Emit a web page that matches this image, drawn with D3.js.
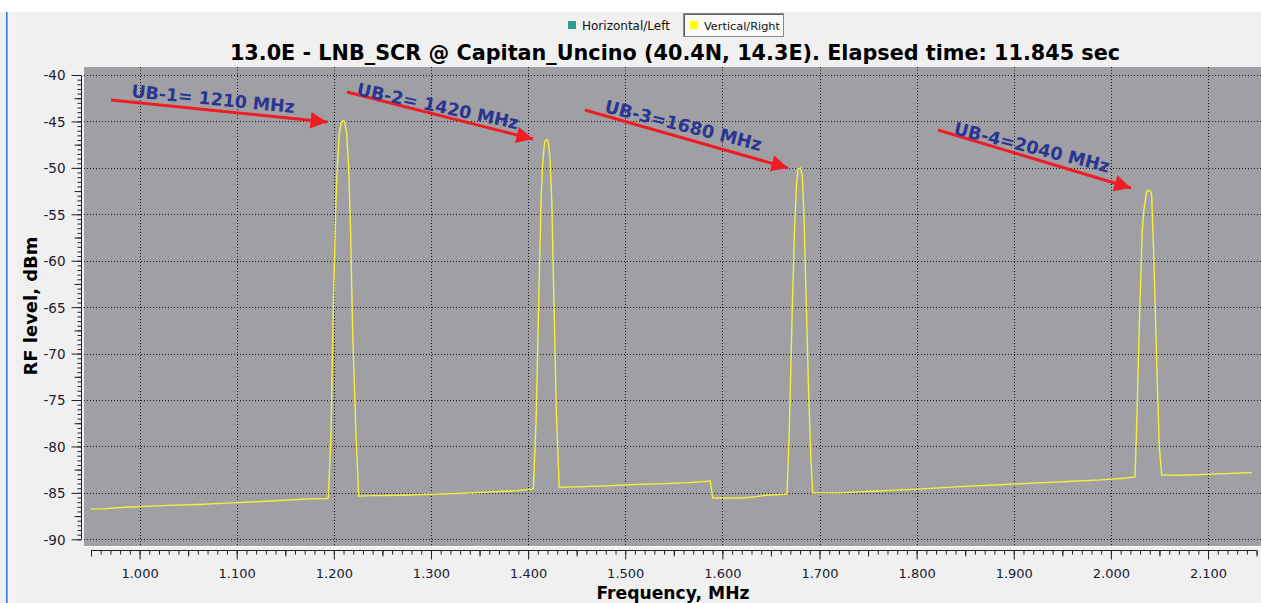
<!DOCTYPE html>
<html>
<head>
<meta charset="utf-8">
<script src="https://cdn.jsdelivr.net/npm/d3@7"></script>
<style>
html,body{margin:0;padding:0;background:#f0f0f0;overflow:hidden;}
svg{display:block;}
</style>
</head>
<body>
<svg id="chart" width="1261" height="603"></svg>
<script>
// ---------------- DATA ----------------
const titleText = "13.0E - LNB_SCR @ Capitan_Uncino (40.4N, 14.3E). Elapsed time: 11.845 sec";
const xLabel = "Frequency, MHz";
const yLabel = "RF level, dBm";
const legendNames = ["Horizontal/Left", "Vertical/Right"];
const legendColors = ["#2f9a96", "#ffff00"];
const xTickValues = [1.0,1.1,1.2,1.3,1.4,1.5,1.6,1.7,1.8,1.9,2.0,2.1];
const yTickValues = [-40,-45,-50,-55,-60,-65,-70,-75,-80,-85,-90];

// Vertical/Right trace: frequency and level (dBm)
const freq = [
  0.950,0.965,0.985,1.005,1.030,1.060,1.090,1.120,1.150,1.175,1.193,
  1.1943,1.1971,1.1995,1.2022,1.2036,1.2056,1.2075,1.2095,1.2112,1.2132,1.2153,1.2173,1.2194,1.2228,1.2256,
  1.240,1.270,1.300,1.330,1.360,1.390,1.404,
  1.4055,1.4083,1.411,1.4135,1.415,1.417,1.419,1.4205,1.4225,1.4245,1.4265,1.429,1.432,
  1.450,1.480,1.510,1.540,1.565,1.585,1.5875,1.590,1.620,1.635,1.645,1.665,
  1.6665,1.669,1.672,1.6745,1.6765,1.678,1.6805,1.6822,1.684,1.686,1.6885,1.691,1.693,
  1.720,1.760,1.800,1.840,1.880,1.920,1.960,1.990,2.010,2.0248,
  2.0265,2.0292,2.0323,2.034,2.0368,2.0385,2.0408,2.0419,2.0443,2.0471,2.0498,2.0522,
  2.070,2.090,2.110,2.125,2.145
];
const level = [
  -86.75,-86.7,-86.55,-86.45,-86.35,-86.25,-86.1,-85.95,-85.8,-85.65,-85.6,
  -85.55,-78.6,-65.0,-53.5,-49.9,-46.3,-45.2,-44.9,-45.0,-46.3,-49.9,-57.0,-67.8,-78.6,-85.35,
  -85.3,-85.25,-85.15,-85.05,-84.9,-84.75,-84.6,
  -84.5,-77,-64,-53,-49.5,-47.2,-46.9,-47.1,-48.8,-54,-64,-76,-84.4,
  -84.35,-84.25,-84.1,-84.0,-83.9,-83.75,-83.7,-85.55,-85.55,-85.4,-85.25,-85.15,
  -85.1,-78,-65,-56,-51.5,-50.1,-50.0,-50.8,-55,-63,-73,-81,-85.0,
  -85.0,-84.8,-84.6,-84.35,-84.15,-83.95,-83.75,-83.6,-83.45,-83.3,
  -77.9,-67.1,-56.7,-54.5,-52.56,-52.4,-52.56,-52.74,-59.92,-70.69,-80.0,-83.08,
  -83.1,-83.05,-82.95,-82.9,-82.8
];

// Annotations (text, text anchor point, text angle, arrow tail, arrow tip) in data units
const annTexts = ["UB-1= 1210 MHz","UB-2= 1420 MHz","UB-3=1680 MHz","UB-4=2040 MHz"];
const annTextPos = [[0.9912,-42.37],[1.2228,-42.15],[1.478,-43.98],[1.8374,-46.35]];
const annAngles = [5.6, 12, 14, 14];
const annWidths = [164, 165, 161, 160];
const arrowTail = [[0.9706,-42.69],[1.2135,-41.83],[1.4585,-43.77],[1.822,-45.92]];
const arrowTip  = [[1.193,-45.06],[1.405,-46.89],[1.6675,-50.01],[2.0206,-52.17]];

// ---------------- LAYOUT ----------------
const W = 1261, H = 603;
const plot = {x0: 84, x1: 1261, y0: 67, y1: 546};
const svg = d3.select("#chart");

const x = d3.scaleLinear().domain([0.95, 2.15]).range([91, 1256.6]);
const y = d3.scaleLinear().domain([-40, -90]).range([75, 539.3]);

function fit(sel, target) {
  const node = sel.node();
  const fs = parseFloat(sel.attr("font-size"));
  const w = node.getComputedTextLength();
  if (w > 0) sel.attr("font-size", (fs * target / w).toFixed(2));
  return sel;
}

// background
svg.append("rect").attr("x",0).attr("y",0).attr("width",W).attr("height",12).attr("fill","#ffffff");
svg.append("rect").attr("x",0).attr("y",12).attr("width",W).attr("height",H-12).attr("fill","#f0f0f0");
svg.append("rect").attr("x",6).attr("y",12).attr("width",1.6).attr("height",H-12).attr("fill","#2f7fd6");
svg.append("rect").attr("x",8).attr("y",12).attr("width",8).attr("height",H-12).attr("fill","#f5f5f5");

// legend
const lg = svg.append("g").attr("font-family","Tahoma, 'DejaVu Sans', sans-serif");
lg.append("rect").attr("x",683.5).attr("y",13.5).attr("width",100).attr("height",23)
  .attr("fill","#f9f9f9").attr("stroke","#8a8a8a").attr("stroke-width",1);
lg.append("path").attr("d","M684.5,36 V14.5 H783").attr("stroke","#5a5a5a").attr("fill","none");
lg.append("rect").attr("x",568).attr("y",21).attr("width",8).attr("height",8).attr("fill",legendColors[0]);
lg.append("rect").attr("x",690).attr("y",21).attr("width",8).attr("height",8).attr("fill",legendColors[1]);
fit(lg.append("text").attr("x",582).attr("y",29.5).attr("font-size",12).attr("fill","#111").text(legendNames[0]),88);
fit(lg.append("text").attr("x",704).attr("y",29.5).attr("font-size",12).attr("fill","#111").text(legendNames[1]),76);

// title
fit(svg.append("text").attr("x",675).attr("y",60).attr("text-anchor","middle")
  .attr("font-family","'DejaVu Sans', sans-serif").attr("font-weight","bold")
  .attr("font-size",20).attr("fill","#000").text(titleText), 890);

// plot area
svg.append("rect").attr("x",plot.x0).attr("y",plot.y0).attr("width",plot.x1-plot.x0).attr("height",plot.y1-plot.y0)
  .attr("fill","#a0a0a4");
svg.append("rect").attr("x",plot.x0).attr("y",plot.y1).attr("width",plot.x1-plot.x0).attr("height",1).attr("fill","#ffffff");

svg.append("defs").append("clipPath").attr("id","clip").append("rect")
  .attr("x",plot.x0).attr("y",plot.y0).attr("width",plot.x1-plot.x0).attr("height",plot.y1-plot.y0);

// grid
const grid = svg.append("g").attr("stroke","#1a1a1a").attr("stroke-width",1).attr("stroke-dasharray","1,2");
grid.selectAll("line.v").data(xTickValues).join("line")
  .attr("x1",d=>Math.round(x(d))+0.5).attr("x2",d=>Math.round(x(d))+0.5)
  .attr("y1",plot.y0).attr("y2",plot.y1);
grid.selectAll("line.h").data(yTickValues).join("line")
  .attr("x1",plot.x0).attr("x2",plot.x1)
  .attr("y1",d=>Math.round(y(d))+0.5).attr("y2",d=>Math.round(y(d))+0.5);

// y axis
const yMinor = d3.range(-90, -39.9, 0.5);
const yMid = d3.range(-87.5, -40, 5);
const yAxG = svg.append("g").attr("transform","translate(81.5,0)");
yAxG.call(d3.axisLeft(y).tickValues(yMinor).tickSize(4).tickFormat("")).call(g=>g.select(".domain").remove());
yAxG.append("g").call(d3.axisLeft(y).tickValues(yMid).tickSize(7).tickFormat("")).call(g=>g.select(".domain").remove());
yAxG.append("g").call(d3.axisLeft(y).tickValues(yTickValues).tickSize(10).tickPadding(6).tickFormat(d=>String(d)))
  .call(g=>g.select(".domain").attr("d",`M0,${y(-40)}V${y(-90)}`));
yAxG.selectAll("line").attr("stroke","#202020");
yAxG.selectAll("path.domain").attr("stroke","#202020");
yAxG.selectAll("text").attr("font-family","Tahoma, 'DejaVu Sans', sans-serif").attr("font-size",13.5).attr("fill","#1a1a30")
  .attr("dy","0.36em");

// x axis
const xMinor = d3.range(95, 215.1, 1).map(v=>v/100);
const xMid = d3.range(0.95, 2.16, 0.1).map(v=>+v.toFixed(2));
const xAxG = svg.append("g").attr("transform","translate(0,550.5)");
xAxG.call(d3.axisBottom(x).tickValues(xMinor).tickSize(4).tickFormat("")).call(g=>g.select(".domain").remove());
xAxG.append("g").call(d3.axisBottom(x).tickValues(xMid).tickSize(6).tickFormat("")).call(g=>g.select(".domain").remove());
xAxG.append("g").call(d3.axisBottom(x).tickValues(xTickValues).tickSize(9).tickPadding(9).tickFormat(d3.format(".3f")))
  .call(g=>g.select(".domain").attr("d",`M${x(0.95)},0H${x(2.15)}`));
xAxG.selectAll("line").attr("stroke","#202020");
xAxG.selectAll("path.domain").attr("stroke","#202020");
xAxG.selectAll("text").attr("font-family","Tahoma, 'DejaVu Sans', sans-serif").attr("font-size",13).attr("fill","#1a1a30");

// axis labels
fit(svg.append("text").attr("x",673).attr("y",599).attr("text-anchor","middle")
  .attr("font-family","'DejaVu Sans', sans-serif").attr("font-weight","bold").attr("font-size",18)
  .attr("fill","#000").text(xLabel), 153);
fit(svg.append("text").attr("transform","translate(37,306) rotate(-90)").attr("text-anchor","middle")
  .attr("font-family","'DejaVu Sans', sans-serif").attr("font-weight","bold").attr("font-size",17)
  .attr("fill","#000").text(yLabel), 139);

// trace
const pts = freq.map((f,i)=>[f, level[i]]);
svg.append("path").datum(pts).attr("clip-path","url(#clip)")
  .attr("fill","none").attr("stroke","#f2f23a").attr("stroke-width",1.4).attr("stroke-linejoin","round")
  .attr("d", d3.line().x(d=>x(d[0])).y(d=>y(d[1])));

// annotations
const ann = svg.append("g");
svg.select("defs").append("marker").attr("id","ah").attr("viewBox","0 0 10 10").attr("refX",10).attr("refY",5)
  .attr("markerWidth",6.5).attr("markerHeight",5.5).attr("markerUnits","strokeWidth").attr("orient","auto")
  .append("path").attr("d","M0,0 L10,5 L0,10 Z").attr("fill","#ee1c25");
arrowTail.forEach((t,i)=>{
  ann.append("line").attr("x1",x(t[0])).attr("y1",y(t[1])).attr("x2",x(arrowTip[i][0])).attr("y2",y(arrowTip[i][1]))
    .attr("stroke","#ee1c25").attr("stroke-width",3).attr("marker-end","url(#ah)");
});
annTexts.forEach((t,i)=>{
  const px = x(annTextPos[i][0]), py = y(annTextPos[i][1]);
  fit(ann.append("text").attr("transform",`translate(${px},${py}) rotate(${annAngles[i]})`)
    .attr("font-family","'DejaVu Sans', sans-serif").attr("font-weight","bold")
    .attr("font-size",17).attr("fill","#2a3592").text(t), annWidths[i]);
});
</script>
</body>
</html>
